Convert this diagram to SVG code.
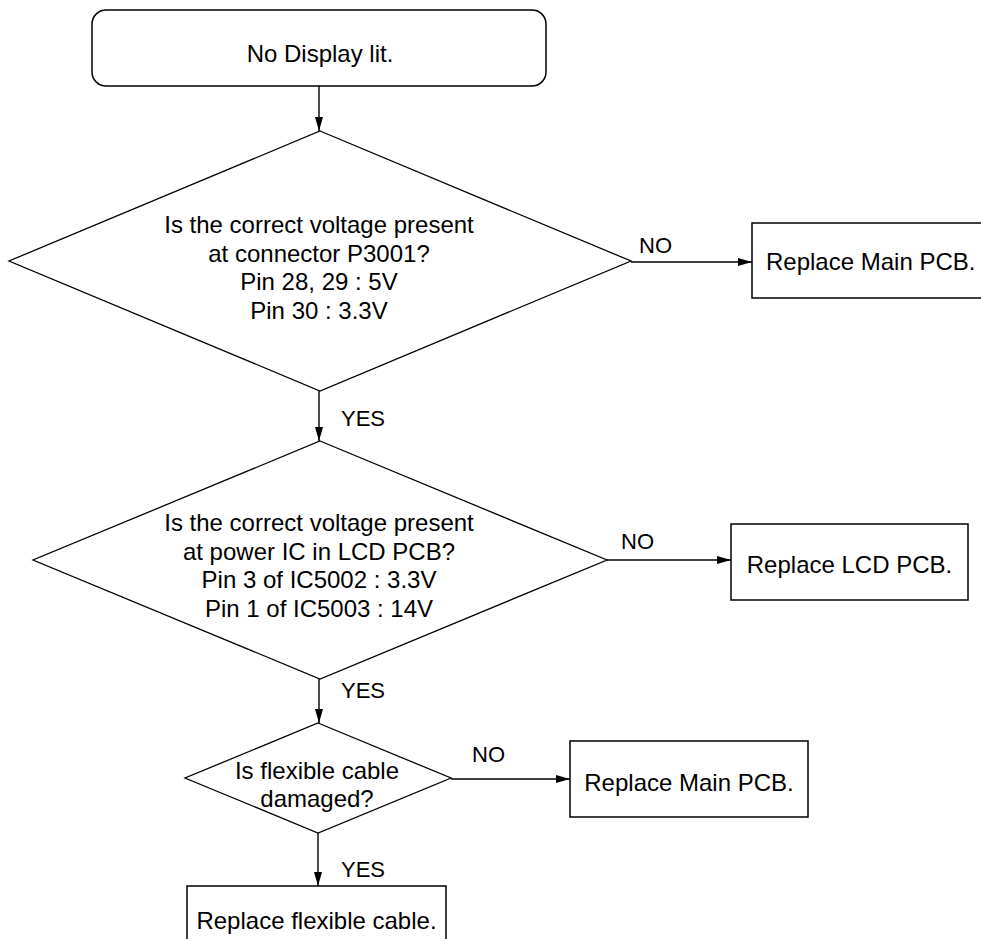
<svg xmlns="http://www.w3.org/2000/svg" width="981" height="939" viewBox="0 0 981 939">
  <defs>
    <marker id="arrow" viewBox="0 0 14 8" refX="14" refY="4" markerWidth="14" markerHeight="8" markerUnits="userSpaceOnUse" orient="auto">
      <path d="M0,0 L14,4 L0,8 Z" fill="#000"/>
    </marker>
    <style>
      .shape { fill: #fff; stroke: #000; stroke-width: 1.5; }
      .diamond { fill: #fff; stroke: #000; stroke-width: 1.3; }
      .txt { font-family: "Liberation Sans", Arial, sans-serif; font-size: 24px; fill: #000; text-anchor: middle; }
      .lbl { font-family: "Liberation Sans", Arial, sans-serif; font-size: 22px; fill: #000; }
      .conn { stroke: #000; stroke-width: 1.4; fill: none; marker-end: url(#arrow); }
    </style>
  </defs>

  <rect width="981" height="939" fill="#fff"/>

  <!-- connectors with their branch labels -->
  <g id="connectors">
    <line class="conn" x1="319" y1="86" x2="319" y2="131"/>
    <line class="conn" x1="631" y1="262" x2="752" y2="262"/>
    <text class="lbl" x="639" y="253">NO</text>
    <line class="conn" x1="319" y1="391" x2="319" y2="441"/>
    <text class="lbl" x="341" y="426">YES</text>
    <line class="conn" x1="607" y1="560" x2="731" y2="560"/>
    <text class="lbl" x="621" y="549">NO</text>
    <line class="conn" x1="319" y1="679" x2="319" y2="723"/>
    <text class="lbl" x="341" y="698">YES</text>
    <line class="conn" x1="451" y1="779" x2="570" y2="779"/>
    <text class="lbl" x="472" y="762">NO</text>
    <line class="conn" x1="318" y1="833" x2="318" y2="886"/>
    <text class="lbl" x="341" y="877">YES</text>
  </g>

  <!-- start -->
  <g id="start">
    <rect class="shape" x="92" y="10" width="454" height="76" rx="14" ry="14"/>
    <text class="txt" x="320" y="62">No Display lit.</text>
  </g>

  <!-- first check: connector voltage -->
  <g id="check-connector">
    <polygon class="diamond" points="320,131 631,261 320,391 9,261"/>
    <text class="txt" x="319" y="233">Is the correct voltage present</text>
    <text class="txt" x="319" y="261.5">at connector P3001?</text>
    <text class="txt" x="319" y="290">Pin 28, 29 : 5V</text>
    <text class="txt" x="319" y="318.5">Pin 30 : 3.3V</text>
  </g>

  <g id="replace-main-1">
    <rect class="shape" x="752" y="223" width="240" height="75"/>
    <text class="txt" x="766" y="270" style="text-anchor:start">Replace Main PCB.</text>
  </g>

  <!-- second check: LCD power IC -->
  <g id="check-lcd-power">
    <polygon class="diamond" points="320,441 607,560 320,679 33,560"/>
    <text class="txt" x="319" y="531">Is the correct voltage present</text>
    <text class="txt" x="319" y="559.5">at power IC in LCD PCB?</text>
    <text class="txt" x="319" y="588">Pin 3 of IC5002 : 3.3V</text>
    <text class="txt" x="319" y="616.5">Pin 1 of IC5003 : 14V</text>
  </g>

  <g id="replace-lcd">
    <rect class="shape" x="731" y="524" width="237" height="76"/>
    <text class="txt" x="849.5" y="573">Replace LCD PCB.</text>
  </g>

  <!-- third check: flexible cable -->
  <g id="check-cable">
    <polygon class="diamond" points="318,723 451,778 318,833 185,778"/>
    <text class="txt" x="317" y="779">Is flexible cable</text>
    <text class="txt" x="317" y="807">damaged?</text>
  </g>

  <g id="replace-main-2">
    <rect class="shape" x="570" y="741" width="238" height="76"/>
    <text class="txt" x="689" y="791">Replace Main PCB.</text>
  </g>

  <g id="replace-cable">
    <rect class="shape" x="187" y="886" width="259" height="76"/>
    <text class="txt" x="316.5" y="929">Replace flexible cable.</text>
  </g>
</svg>
